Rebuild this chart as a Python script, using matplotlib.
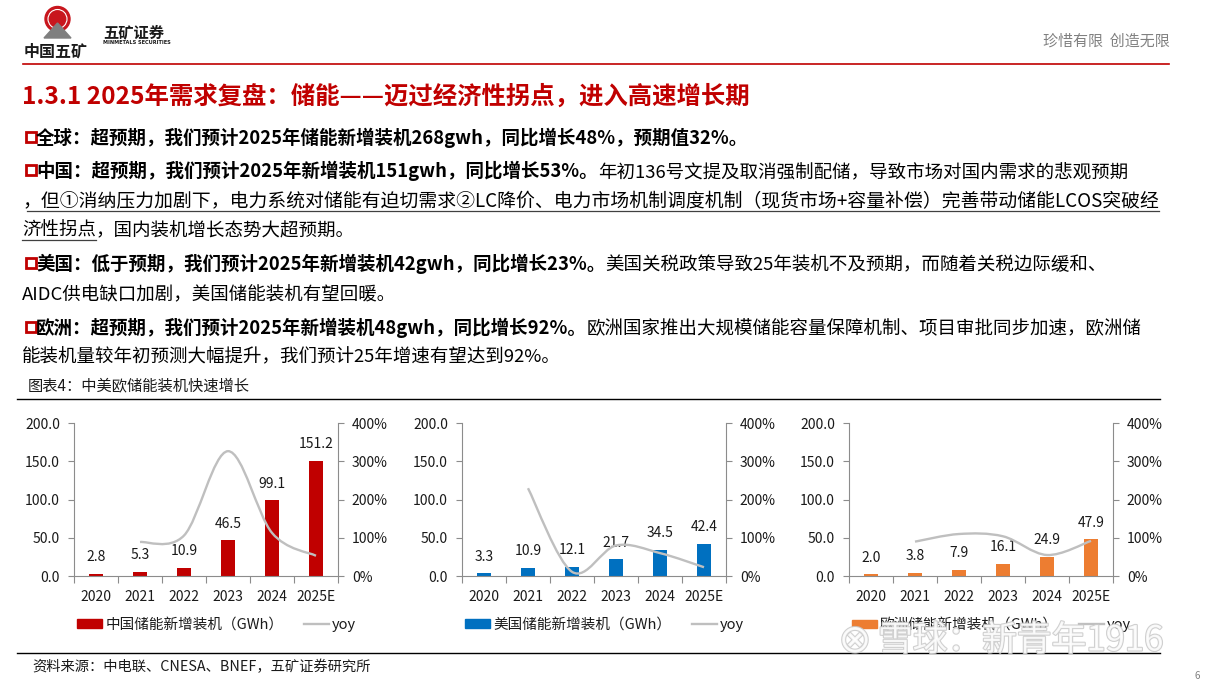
import numpy as np
import matplotlib.pyplot as plt
from matplotlib.path import Path
from matplotlib.patches import PathPatch, Rectangle, Circle, Polygon
from matplotlib.lines import Line2D
import matplotlib.patheffects as pe

plt.rcParams['font.family'] = ['Noto Sans CJK SC', 'DejaVu Sans']

# 数据
years = ['2020', '2021', '2022', '2023', '2024', '2025E']
cn_gwh = [2.8, 5.3, 10.9, 46.5, 99.1, 151.2]
us_gwh = [3.3, 10.9, 12.1, 21.7, 34.5, 42.4]
eu_gwh = [2.0, 3.8, 7.9, 16.1, 24.9, 47.9]
# yoy (%), 2021 - 2025E
cn_yoy = [89, 106, 327, 113, 53]
us_yoy = [230, 11, 80, 60, 23]
eu_yoy = [90, 110, 104, 55, 92]
cn_label = '中国储能新增装机（GWh）'
us_label = '美国储能新增装机（GWh）'
eu_label = '欧洲储能新增装机（GWh）'

W, H = 1207, 681
RED = '#C00000'
GRAY_AX = '#8c8c8c'
TXT = '#1a1a1a'

fig = plt.figure(figsize=(W / 100, H / 100), dpi=100)
renderer = fig.canvas.get_renderer()

# 背景层, 像素坐标
bg = fig.add_axes([0, 0, 1, 1])
bg.set_xlim(0, W)
bg.set_ylim(H, 0)
bg.axis('off')
inv = bg.transData.inverted()

# logo
bg.add_patch(Circle((57.5, 19), 12.5, color='#C8161D'))
bg.add_patch(Circle((57.5, 19), 9.5, fill=False, ec='white', lw=0.8))
bg.add_patch(Polygon([[44, 38], [71, 38], [57.5, 23]], color='#7f7f7f'))
bg.text(24, 52, '中国五矿', fontsize=11.5, fontweight='bold', color='#1a1a1a', va='center')
bg.text(103, 32, '五矿证券', fontsize=11, fontweight='bold', color='#1a1a1a', va='center')
bg.text(103, 42, 'MINMETALS SECURITIES', fontsize=3.6, fontweight='bold', color='#1a1a1a',
        va='center', family='DejaVu Sans')
bg.text(1170, 41, '珍惜有限  创造无限', fontsize=10.8, color='#808080', va='center', ha='right')
bg.plot([23, 1169], [64, 64], color=RED, lw=1.2)

# 标题
bg.text(22, 97, '1.3.1 2025年需求复盘：储能——迈过经济性拐点，进入高速增长期',
        fontsize=17.6, fontweight='bold', color=RED, va='center')


def put_line(x, y, parts, size=13.3):
    base = y + 7
    x0 = x
    for s, bold in parts:
        t = bg.text(x, base, s, fontsize=size, fontweight='bold' if bold else 'normal',
                    color='black', va='baseline', ha='left')
        bb = t.get_window_extent(renderer)
        x = inv.transform((bb.x1, bb.y1))[0]
    return x0, x


def box(y):
    bg.add_patch(Rectangle((26, y - 5), 9.5, 9.5, fill=False, ec=RED, lw=2.0))


box(137)
put_line(36, 137, [('全球：超预期，我们预计2025年储能新增装机268gwh，同比增长48%，预期值32%。', True)])
box(170)
put_line(36, 170, [('中国：超预期，我们预计2025年新增装机151gwh，同比增长53%。', True),
                   ('年初136号文提及取消强制配储，导致市场对国内需求的悲观预期', False)])
a, b = put_line(22, 200, [('，但①消纳压力加剧下，电力系统对储能有迫切需求②LC降价、电力市场机制调度机制（现货市场+容量补偿）完善带动储能LCOS突破经', False)],
                size=13.55)
bg.plot([27, b], [211, 211], color='#404040', lw=0.9)
a, b = put_line(22, 229, [('济性拐点', False)])
bg.plot([a, b], [240, 240], color='#404040', lw=0.9)
put_line(b, 229, [('，国内装机增长态势大超预期。', False)])
box(263)
put_line(36, 263, [('美国：低于预期，我们预计2025年新增装机42gwh，同比增长23%。', True),
                   ('美国关税政策导致25年装机不及预期，而随着关税边际缓和、', False)])
put_line(22, 293, [('AIDC供电缺口加剧，美国储能装机有望回暖。', False)])
box(327)
put_line(36, 327, [('欧洲：超预期，我们预计2025年新增装机48gwh，同比增长92%。', True),
                   ('欧洲国家推出大规模储能容量保障机制、项目审批同步加速，欧洲储', False)])
put_line(22, 355, [('能装机量较年初预测大幅提升，我们预计25年增速有望达到92%。', False)])

bg.text(28, 386, '图表4：中美欧储能装机快速增长', fontsize=11, color=TXT, va='center')
bg.plot([17, 1160], [399, 399], color='black', lw=1.0)
bg.plot([17, 1160], [653, 653], color='black', lw=1.0)
bg.text(32, 667, '资料来源：中电联、CNESA、BNEF，五矿证券研究所', fontsize=10.3, color=TXT, va='center')
bg.text(1197, 676, '6', fontsize=7, color='#808080', va='center', ha='center')


def smooth_path(xs, ys):
    pts = np.column_stack([xs, ys]).astype(float)
    n = len(pts)
    verts = [pts[0]]
    codes = [Path.MOVETO]
    for i in range(n - 1):
        p0 = pts[i - 1] if i > 0 else pts[i]
        p1 = pts[i]
        p2 = pts[i + 1]
        p3 = pts[i + 2] if i + 2 < n else pts[i + 1]
        verts += [p1 + (p2 - p0) / 6, p2 - (p3 - p1) / 6, p2]
        codes += [Path.CURVE4] * 3
    return Path(verts, codes)


def panel(left, gwh, yoy, color, label):
    ax = fig.add_axes([left / W, 1 - 576 / H, 264 / W, 152.7 / H])
    ax.patch.set_alpha(0)
    x = np.arange(len(years))
    ax.bar(x, gwh, width=0.3, color=color, zorder=2)
    for xi, v in zip(x, gwh):
        ax.annotate(f'{v:.1f}', (xi, v), xytext=(0, 12), textcoords='offset points',
                    ha='center', va='center', fontsize=10, color=TXT)
    ax.set_xlim(-0.5, len(years) - 0.5)
    ax.set_ylim(0, 200)
    ax.set_yticks([0, 50, 100, 150, 200])
    ax.set_yticklabels([f'{v:.1f}' for v in [0, 50, 100, 150, 200]])
    ax.set_xticks(np.arange(-0.5, len(years), 1))
    ax.set_xticklabels([])
    ax.set_xticks(x, minor=True)
    ax.set_xticklabels(years, minor=True)
    ax.tick_params(axis='x', which='major', length=5, color=GRAY_AX, direction='out')
    ax.tick_params(axis='x', which='minor', length=0, pad=10, labelsize=10, labelcolor=TXT)
    ax.tick_params(axis='y', length=4, color=GRAY_AX, pad=6, labelsize=10, labelcolor=TXT)
    for s in ['top', 'right']:
        ax.spines[s].set_visible(False)
    for s in ['left', 'bottom']:
        ax.spines[s].set_color(GRAY_AX)

    ax2 = ax.twinx()
    ax2.set_ylim(0, 400)
    ax2.set_yticks([0, 100, 200, 300, 400])
    ax2.set_yticklabels([f'{v}%' for v in [0, 100, 200, 300, 400]])
    ax2.tick_params(axis='y', length=4, color=GRAY_AX, pad=6, labelsize=10, labelcolor=TXT)
    for s in ['top', 'left', 'bottom']:
        ax2.spines[s].set_visible(False)
    ax2.spines['right'].set_color(GRAY_AX)
    ax2.add_patch(PathPatch(smooth_path(x[1:], yoy), fc='none', ec='#BFBFBF', lw=1.7, zorder=3))

    handles = [Rectangle((0, 0), 1, 1, color=color), Line2D([], [], color='#BFBFBF', lw=1.7)]
    ax.legend(handles, [label, 'yoy'], loc='center left',
              bbox_to_anchor=((left + 3) / W, 1 - 625 / H), bbox_transform=fig.transFigure,
              ncol=2, frameon=False, borderpad=0, borderaxespad=0, handlelength=1.7,
              handleheight=0.55, handletextpad=0.25, columnspacing=1.4, fontsize=10.5,
              labelcolor=TXT)


panel(74, cn_gwh, cn_yoy, RED, cn_label)
panel(462, us_gwh, us_yoy, '#0070C0', us_label)
panel(849, eu_gwh, eu_yoy, '#ED7D31', eu_label)

# 水印
fig.text(878 / W, 1 - 641 / H, '雪球：新青年1916', fontsize=25, color='white', alpha=0.85,
         va='center', ha='left',
         path_effects=[pe.withStroke(linewidth=1.6, foreground='#c8c8c8')])
fig.text(855 / W, 1 - 641 / H, '⊗', fontsize=28, color='white', alpha=0.85,
         va='center', ha='center', family='DejaVu Sans',
         path_effects=[pe.withStroke(linewidth=1.6, foreground='#c8c8c8')])

fig.savefig('out.png', dpi=100)
